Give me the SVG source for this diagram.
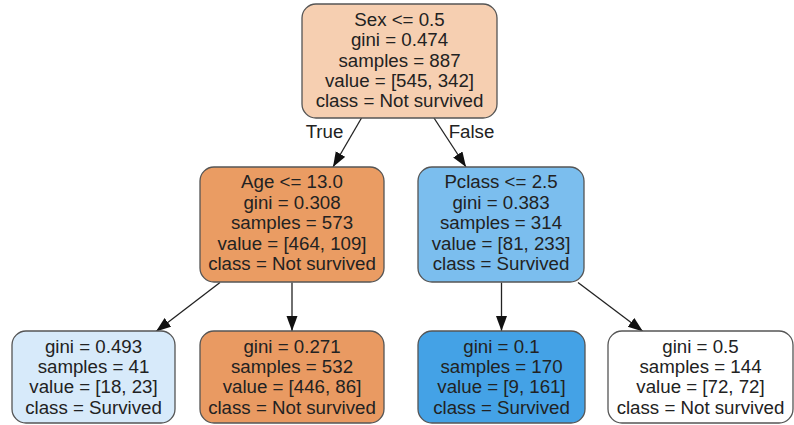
<svg xmlns="http://www.w3.org/2000/svg" width="794" height="425" viewBox="0 0 794 425">
<style>
.n{stroke:#555;stroke-width:1.3}
.t{font-family:"Liberation Sans",Arial,sans-serif;font-size:18.7px;fill:#222;text-anchor:middle}
.e{stroke:#222;stroke-width:1.3;fill:none;marker-end:url(#ah)}
</style>
<defs>
<marker id="ah" markerUnits="userSpaceOnUse" markerWidth="16" markerHeight="12" refX="15" refY="5.5" orient="auto">
<path d="M0,0 L15,5.5 L0,11 Z" fill="#111"/>
</marker>
</defs>
<rect width="794" height="425" fill="#fff"/>
<g id="edges">
<line class="e" x1="361.5" y1="118" x2="333" y2="167"/>
<line class="e" x1="434" y1="118" x2="466" y2="167"/>
<line class="e" x1="220" y1="282.5" x2="156" y2="331.5"/>
<line class="e" x1="292" y1="282.5" x2="292" y2="331"/>
<line class="e" x1="501.5" y1="282.5" x2="501.5" y2="331"/>
<line class="e" x1="578" y1="282.5" x2="643" y2="331.5"/>
<text class="t" x="324.5" y="138">True</text>
<text class="t" x="471.5" y="138">False</text>
</g>
<g id="root">
<rect class="n" x="302" y="4" width="195" height="114" rx="14" fill="#f6cfb1"/>
<text class="t" x="399.5" y="26">Sex &lt;= 0.5</text>
<text class="t" x="399.5" y="46.3">gini = 0.474</text>
<text class="t" x="399.5" y="66.6">samples = 887</text>
<text class="t" x="399.5" y="87">value = [545, 342]</text>
<text class="t" x="399.5" y="107.3">class = Not survived</text>
</g>
<g id="age">
<rect class="n" x="200" y="167" width="184" height="115" rx="14" fill="#ea9c63"/>
<text class="t" x="292" y="188.3">Age &lt;= 13.0</text>
<text class="t" x="292" y="208.7">gini = 0.308</text>
<text class="t" x="292" y="229">samples = 573</text>
<text class="t" x="292" y="249.5">value = [464, 109]</text>
<text class="t" x="292" y="270">class = Not survived</text>
</g>
<g id="pclass">
<rect class="n" x="418" y="167" width="166" height="115" rx="14" fill="#7bbeee"/>
<text class="t" x="501" y="188.3">Pclass &lt;= 2.5</text>
<text class="t" x="501" y="208.7">gini = 0.383</text>
<text class="t" x="501" y="229">samples = 314</text>
<text class="t" x="501" y="249.5">value = [81, 233]</text>
<text class="t" x="501" y="270">class = Survived</text>
</g>
<g id="leaf1">
<rect class="n" x="12" y="331" width="163" height="92" rx="14" fill="#d7eafa"/>
<text class="t" x="93.5" y="352.7">gini = 0.493</text>
<text class="t" x="93.5" y="373">samples = 41</text>
<text class="t" x="93.5" y="393.4">value = [18, 23]</text>
<text class="t" x="93.5" y="413.7">class = Survived</text>
</g>
<g id="leaf2">
<rect class="n" x="200" y="331" width="184" height="92" rx="14" fill="#e99a62"/>
<text class="t" x="292" y="352.7">gini = 0.271</text>
<text class="t" x="292" y="373">samples = 532</text>
<text class="t" x="292" y="393.4">value = [446, 86]</text>
<text class="t" x="292" y="413.7">class = Not survived</text>
</g>
<g id="leaf3">
<rect class="n" x="418" y="331" width="167" height="92" rx="14" fill="#44a2e6"/>
<text class="t" x="501.5" y="352.7">gini = 0.1</text>
<text class="t" x="501.5" y="373">samples = 170</text>
<text class="t" x="501.5" y="393.4">value = [9, 161]</text>
<text class="t" x="501.5" y="413.7">class = Survived</text>
</g>
<g id="leaf4">
<rect class="n" x="608" y="331" width="185" height="92" rx="14" fill="#ffffff"/>
<text class="t" x="700.5" y="352.7">gini = 0.5</text>
<text class="t" x="700.5" y="373">samples = 144</text>
<text class="t" x="700.5" y="393.4">value = [72, 72]</text>
<text class="t" x="700.5" y="413.7">class = Not survived</text>
</g>
</svg>
